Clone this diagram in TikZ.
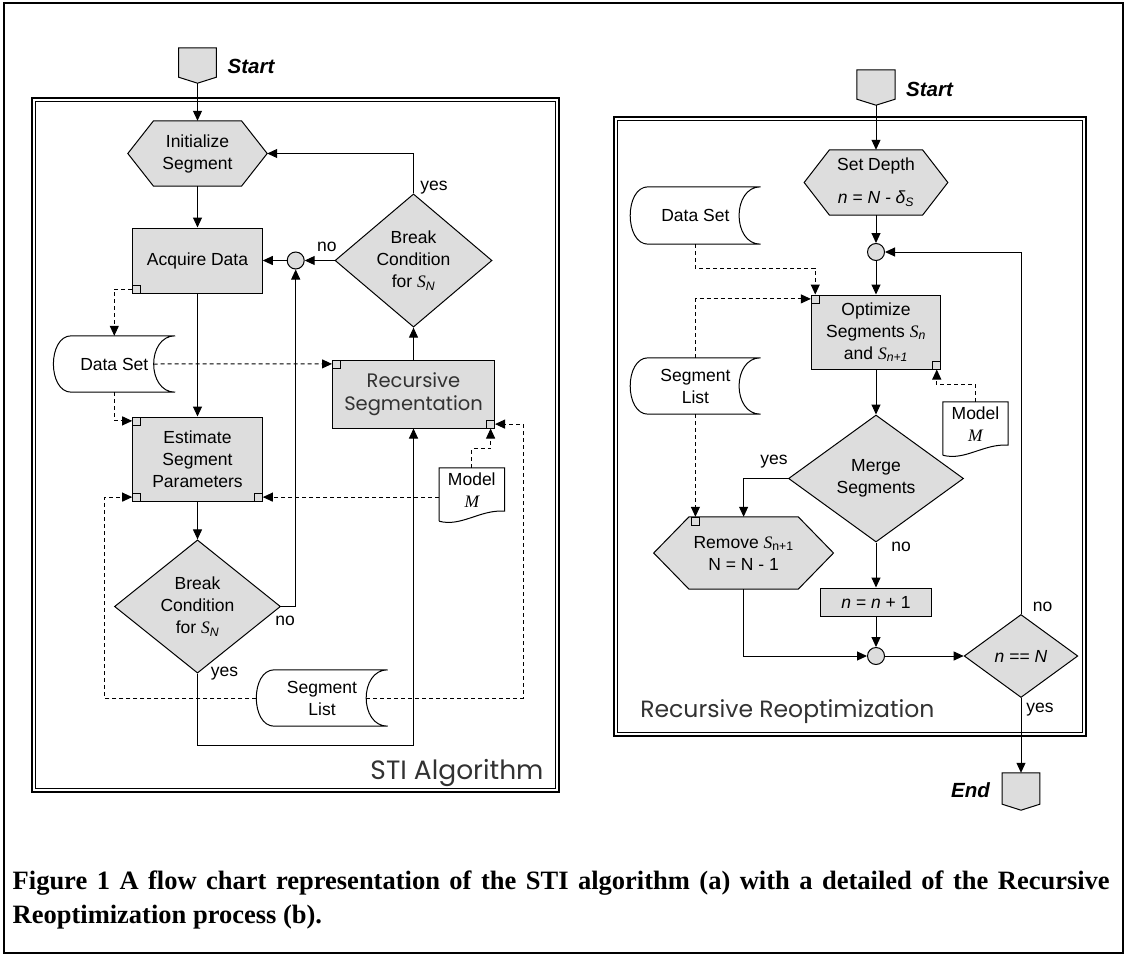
\documentclass[tikz,border=0pt]{standalone}
\usepackage{fontspec}
\setmainfont{Liberation Sans}
\newfontfamily\serifface{Liberation Serif}
\newfontfamily\handface{Poppins}
\usetikzlibrary{shapes}
\usetikzlibrary{arrows.meta}
\usetikzlibrary{positioning}
\usetikzlibrary{calc}
\usetikzlibrary{backgrounds}

\definecolor{boxgray}{RGB}{221,221,221}
\definecolor{handgray}{RGB}{50,50,50}

\newcommand{\flowfont}{\fontsize{17.5}{22}\selectfont}
\newcommand{\handfont}{\handface\fontsize{19.5}{23}\selectfont}
\newcommand{\capfont}{\serifface\bfseries\fontsize{26.5}{34}\selectfont}
\newcommand{\segS}[1]{{\serifface\itshape S}\textsubscript{#1}}

% outlines of the shapes that are not plain nodes
\newcommand{\hexdraw}[2]{%
  \draw[conn, fill=boxgray] ($(#1.north west)+(#2,0)$) -- ($(#1.north east)+(-#2,0)$) -- (#1.east)
    -- ($(#1.south east)+(-#2,0)$) -- ($(#1.south west)+(#2,0)$) -- (#1.west) -- cycle;}
\newcommand{\termdraw}[1]{%
  \draw[conn, fill=boxgray] (#1.north west) -- (#1.north east) -- ($(#1.south east)+(0,-6)$)
    -- (#1.south) -- ($(#1.south west)+(0,-6)$) -- cycle;}
\newcommand{\storedraw}[1]{%
  \draw[conn] ($(#1.north west)+(18,0)$) -- (#1.north east)
    .. controls ($(#1.north east)+(-28.7,0)$) and ($(#1.south east)+(-28.7,0)$) .. (#1.south east)
    -- ($(#1.south west)+(18,0)$)
    .. controls ($(#1.south west)+(-6,0)$) and ($(#1.north west)+(-6,0)$) .. cycle;}
\newcommand{\docdraw}[1]{%
  \draw[conn] ($(#1.south west)+(0,9)$) -- (#1.north west) -- (#1.north east) -- ($(#1.south east)+(0,-1)$)
    .. controls ($(#1.south east)+(-24,-3)$) and ($(#1.south west)+(22,15)$) .. ($(#1.south west)+(0,9)$);}

\tikzset{
  conn/.style={line width=1pt},
  arr/.style={conn, -{Triangle[length=10pt,width=9pt]}},
  dashline/.style={arr, dash pattern=on 4pt off 3pt},
  proc/.style={draw, fill=boxgray, line width=1pt, align=center, inner sep=0pt, font=\flowfont},
  decision/.style={proc, diamond},
  hexbox/.style={align=center, inner sep=0pt, font=\flowfont},
  termbox/.style={minimum width=37.5pt, minimum height=35pt, inner sep=0pt},
  junc/.style={circle, draw, fill=boxgray, line width=1pt, minimum size=17pt, inner sep=0pt},
  port/.style={draw, fill=boxgray, line width=0.8pt, minimum size=8pt, inner sep=0pt},
  store/.style={minimum height=56pt, align=center, inner sep=0pt, font=\flowfont},
  docbox/.style={minimum width=65pt, minimum height=44pt, align=center, inner sep=0pt, font=\flowfont},
  labl/.style={inner sep=0pt, font=\flowfont},
  startlbl/.style={inner sep=0pt, font=\fontsize{20.5}{22}\selectfont\bfseries\itshape},
  paneltitle/.style={inner sep=0pt, text=handgray, font=\handface\fontsize{#1}{26}\selectfont}
}

\begin{document}
\begin{tikzpicture}[x=1pt,y=-1pt]
\useasboundingbox (0,0) rectangle (1126,955);

% frames
\draw[line width=2pt] (4,3) rectangle (1123,953);
\draw[line width=2pt] (31.5,98) rectangle (559,791.5);
\draw[conn] (35,101.5) rectangle (555.5,788);
\draw[line width=2pt] (614,117.5) rectangle (1086,735.5);
\draw[conn] (617.5,121) rectangle (1082.5,732);

% STI algorithm
\node[termbox] (start1) at (197.5,65.5) {};
\node[startlbl, anchor=west] (startl1) at (227.5,66) {Start};
\node[hexbox, minimum width=139pt, minimum height=65pt] (init) at (197.5,153.5) {Initialize\\Segment};
\node[proc, minimum width=129.6pt, minimum height=65pt] (acq) at (197.5,260.5) {Acquire Data};
\node[junc] (junc1) at (295.7,260.5) {};
\node[decision, minimum width=157pt, minimum height=129pt] (brk1) at (413.5,260.5) {Break\\Condition\\for \segS{\textit{N}}};
\node[proc, minimum width=162pt, minimum height=68pt, font=\handfont, text=handgray] (recseg) at (413.5,394) {Recursive\\Segmentation};
\node[store, minimum width=121.4pt] (dset1) at (114.3,364) {Data Set};
\node[proc, minimum width=129.6pt, minimum height=84pt] (est) at (197.5,459) {Estimate\\Segment\\Parameters};
\node[decision, minimum width=166pt, minimum height=129pt] (brk2) at (197.5,606.5) {Break\\Condition\\for \segS{\textit{N}}};
\node[docbox] (model1) at (471.8,490) {Model\\{\serifface\itshape M}};
\node[store, minimum width=131pt] (seglist1) at (322,698) {Segment\\List};
\node[paneltitle=26.5] (sti) at (457,773) {STI Algorithm};

\node[port, anchor=south west] (acqp) at (acq.south west) {};
\node[port, anchor=north west] (estp1) at (est.north west) {};
\node[port, anchor=south west] (estp2) at (est.south west) {};
\node[port, anchor=south east] (estp3) at (est.south east) {};
\node[port, anchor=north west] (recp1) at (recseg.north west) {};
\node[port, anchor=south east] (recp2) at (recseg.south east) {};

\node[labl] (no1) at (326.8,247) {no};
\node[labl] (yes1) at (434,188) {yes};
\node[labl] (no2) at (285,621) {no};
\node[labl] (yes2) at (224.6,674) {yes};

% Recursive Reoptimization
\node[termbox, minimum width=38pt] (start2) at (876,87.5) {};
\node[startlbl, anchor=west] (startl2) at (906,89) {Start};
\node[hexbox, minimum width=143.3pt, minimum height=65pt] (setd) at (876,182.5) {Set Depth\\[11pt]\textit{n = N - δ\textsubscript{S}}};
\node[junc] (junc2) at (876,252) {};
\node[proc, minimum width=129.3pt, minimum height=74pt] (opt) at (876,332) {Optimize\\Segments \segS{\textit{n}}\\and \segS{\textit{n+1}}};
\node[store, minimum width=130pt, minimum height=57pt] (dset2) at (695.4,215.5) {Data Set};
\node[store, minimum width=130pt] (seglist2) at (695.4,386) {Segment\\List};
\node[docbox] (model2) at (975.5,424) {Model\\{\serifface\itshape M}};
\node[decision, minimum width=175pt, minimum height=127pt] (merge) at (876,478.5) {Merge\\Segments};
\node[hexbox, minimum width=179.4pt, minimum height=72pt] (remove) at (743.6,553) {Remove \segS{n+1}\\N = N - 1};
\node[proc, minimum width=110.8pt, minimum height=28pt] (incn) at (876,602) {\textit{n} = \textit{n} + 1};
\node[junc] (junc3) at (876,656) {};
\node[decision, minimum width=113.7pt, minimum height=83pt] (eqn) at (1021,656) {\textit{n} == \textit{N}};
\node[termbox, minimum width=37.2pt, minimum height=37pt] (stop) at (1021,791.5) {};
\node[startlbl, anchor=east] (endl) at (990,790) {End};
\node[paneltitle=23.5] (recre) at (787.4,712) {Recursive Reoptimization};

\node[port, anchor=north west] (optp1) at (opt.north west) {};
\node[port, anchor=south east] (optp2) at (opt.south east) {};
\node[port, anchor=north] (remp) at ([xshift=-48.2pt]remove.north) {};

\node[labl] (yes3) at (774,462) {yes};
\node[labl] (no3) at (901,547) {no};
\node[labl] (no4) at (1042.5,607) {no};
\node[labl] (yes4) at (1040,710) {yes};

% caption
\node[anchor=north west, text width=1097pt, align=justify, inner sep=0pt, font=\capfont] (cap) at (12.5,871)
  {Figure 1 A flow chart representation of the STI algorithm (a) with a detailed of the Recursive\linebreak Reoptimization process (b).};

\begin{scope}[on background layer]
\hexdraw{init}{25.7}
\hexdraw{setd}{25.3}
\hexdraw{remove}{35.3}
\termdraw{start1}
\termdraw{start2}
\termdraw{stop}
\end{scope}
\storedraw{dset1}
\storedraw{seglist1}
\storedraw{dset2}
\storedraw{seglist2}
\docdraw{model1}
\docdraw{model2}

% left flow
\draw[arr] (start1.south) -- (init.north);
\draw[arr] (init.south) -- (acq.north);
\draw[arr] (acq.south) -- (est.north);
\draw[arr] (est.south) -- (brk2.north);
\draw[arr] (brk2.east) -| (junc1.south);
\draw[arr] (junc1.west) -- (acq.east);
\draw[arr] (brk1.west) -- (junc1.east);
\draw[arr] (brk1.north) |- (init.east);
\draw[arr] (recseg.north) -- (brk1.south);
\draw[arr] (brk2.south) -- ++(0,72) -| (recseg.south);

\draw[dashline] (acqp.west) -| (dset1.north);
\draw[dashline] (dset1.south) |- (estp1.west);
\draw[dashline] ($(dset1.east)+(-21.5,0)$) -- (recp1.west);
\draw[dashline] (estp3 -| model1.west) -- (estp3.east);
\draw[dashline] (model1.north) -- ++(0,-19) -| (recp2.south);
\draw[dashline] (seglist1.west) -| ([xshift=-27.5pt]estp2.west) -- (estp2.west);
\draw[dashline] ($(seglist1.east)+(-21.5,0)$) -| ([xshift=28pt]recp2.east) -- (recp2.east);

% right flow
\draw[arr] (start2.south) -- (setd.north);
\draw[arr] (setd.south) -- (junc2.north);
\draw[arr] (junc2.south) -- (opt.north);
\draw[arr] (opt.south) -- (merge.north);
\draw[arr] (merge.west) -| (remove.north);
\draw[arr] (merge.south) -- (incn.north);
\draw[arr] (incn.south) -- (junc3.north);
\draw[arr] (remove.south) |- (junc3.west);
\draw[arr] (junc3.east) -- (eqn.west);
\draw[arr] (eqn.north) |- (junc2.east);
\draw[arr] (eqn.south) -- (stop.north);

\draw[dashline] (dset2.south) -- ++(0,24) -| (optp1.north);
\draw[dashline] (seglist2.north) |- (optp1.west);
\draw[dashline] (seglist2.south) -- (seglist2.south |- remp.north);
\draw[dashline] (model2.north) -- ++(0,-17) -| (optp2.south);
\end{tikzpicture}
\end{document}
